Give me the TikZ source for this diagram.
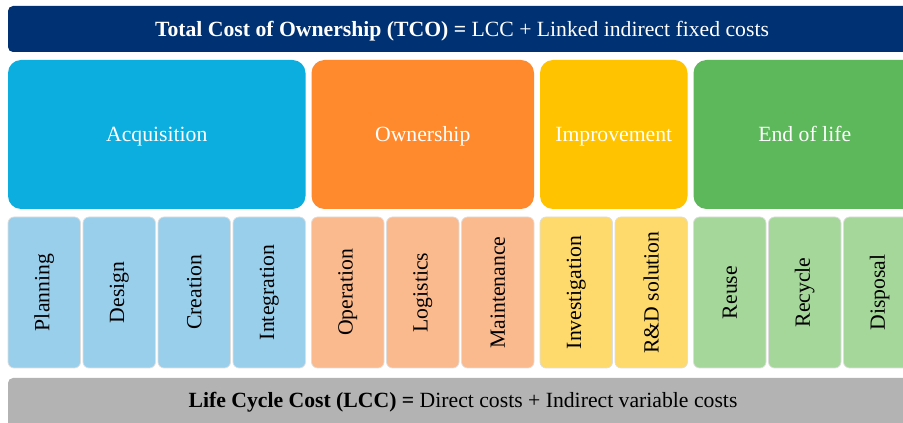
\documentclass[tikz,border=0pt]{standalone}
\usepackage{graphicx}
\usepackage{fontspec}
\setmainfont{Liberation Serif}
\usetikzlibrary{positioning}
\definecolor{tcoblue}{HTML}{003172}
\definecolor{lccgray}{HTML}{B3B3B3}
\definecolor{acqcol}{HTML}{0CAEE0}
\definecolor{owncol}{HTML}{FF8A2D}
\definecolor{impcol}{HTML}{FFC300}
\definecolor{eolcol}{HTML}{5CB85A}
\definecolor{acqlight}{HTML}{9ACFEC}
\definecolor{ownlight}{HTML}{FBBA8E}
\definecolor{implight}{HTML}{FEDA6C}
\definecolor{eollight}{HTML}{A6D79A}
\tikzset{
tco/.style={x=1pt,y=1pt,node distance=2.5pt,
font=\fontsize{21.7}{26}\selectfont},
bar/.style={rounded corners=5pt,inner sep=0pt,outer sep=0pt,fill=#1,
text height=17.4pt,text depth=3pt},
phase/.style={rounded corners=13pt,inner sep=0pt,outer sep=0pt,fill=#1,
text=white,minimum height=149pt,text height=17.4pt,text depth=3pt},
task/.style={rounded corners=6pt,inner sep=0pt,outer sep=0pt,fill=#1,
draw=black!13,line width=0.7pt,minimum width=72.5pt,minimum height=151pt},
}

\begin{document}
\begin{tikzpicture}[tco]
    \useasboundingbox (0,0) rectangle (903,423);
    \clip (0,0) rectangle (903,423);
    % cost items
    \node[task=acqlight] (plan) at (8,130.5) [anchor=west] {\rotatebox{90}{Planning}};
    \node[task=acqlight] (design) [right=of plan] {\rotatebox{90}{Design}};
    \node[task=acqlight] (creat) [right=of design] {\rotatebox{90}{Creation}};
    \node[task=acqlight] (integ) [right=of creat] {\rotatebox{90}{Integration}};
    \node[task=ownlight] (oper) [right=6pt of integ] {\rotatebox{90}{Operation}};
    \node[task=ownlight] (logist) [right=of oper] {\rotatebox{90}{Logistics}};
    \node[task=ownlight] (maint) [right=of logist] {\rotatebox{90}{Maintenance}};
    \node[task=implight] (invest) [right=6pt of maint] {\rotatebox{90}{Investigation}};
    \node[task=implight] (rnd) [right=of invest] {\rotatebox{90}{R\&D solution}};
    \node[task=eollight] (reuse) [right=6pt of rnd] {\rotatebox{90}{Reuse}};
    \node[task=eollight] (recyc) [right=of reuse] {\rotatebox{90}{Recycle}};
    \node[task=eollight] (dispo) [right=of recyc] {\rotatebox{90}{Disposal}};
    % phases
    \node[phase=acqcol,minimum width=297.5pt] (acq) [above right=8pt and 0pt of plan.north west] {Acquisition};
    \node[phase=owncol,minimum width=222.5pt] (own) [above right=8pt and 0pt of oper.north west] {Ownership};
    \node[phase=impcol,minimum width=147.5pt] (imp) [above right=8pt and 0pt of invest.north west] {Improvement};
    \node[phase=eolcol,minimum width=222.5pt] (eol) [above right=8pt and 0pt of reuse.north west] {End of life};
    % totals
    \node[bar=tcoblue,text=white,minimum width=908pt,minimum height=46pt] (tcobar) [above right=8pt and 0pt of acq.north west] {\textbf{Total Cost of Ownership (TCO) =} LCC + Linked indirect fixed costs};
    \node[bar=lccgray,minimum width=910pt,text height=30pt,text depth=26pt] (lccbar) [below right=10pt and 0pt of plan.south west] {\textbf{Life Cycle Cost (LCC) =} Direct costs + Indirect variable costs};
\end{tikzpicture}
\end{document}
